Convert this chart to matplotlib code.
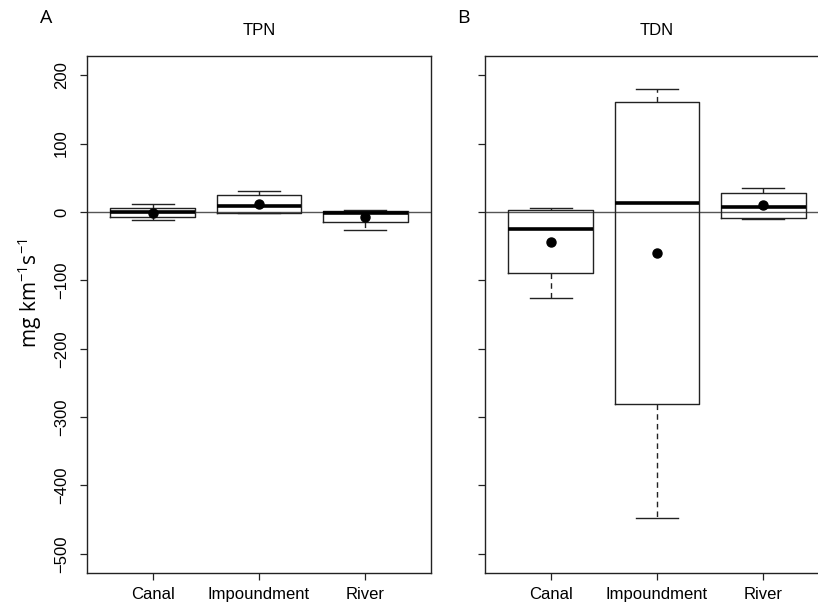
import matplotlib
matplotlib.use('Agg')
import matplotlib.pyplot as plt

plt.rcParams['font.family'] = ['Liberation Sans', 'DejaVu Sans']

categories = ['Canal', 'Impoundment', 'River']

# TPN (panel A)
tpn_whislo = [-11.7, -1.0, -26.0]
tpn_q1 = [-6.9, -1.0, -15.0]
tpn_med = [-0.4, 8.8, -2.0]
tpn_q3 = [5.4, 24.8, 1.5]
tpn_whishi = [11.7, 31.0, 3.0]
tpn_mean = [-1.0, 12.0, -7.7]

# TDN (panel B)
tdn_whislo = [-126.5, -447.0, -10.7]
tdn_q1 = [-88.6, -281.0, -8.8]
tdn_med = [-25.0, 13.6, 7.8]
tdn_q3 = [3.0, 161.0, 27.7]
tdn_whishi = [5.4, 179.6, 34.6]
tdn_mean = [-43.3, -60.3, 10.2]

yticks = [-500, -400, -300, -200, -100, 0, 100, 200]


def make_stats(lo, q1, med, q3, hi, mean):
    stats = []
    for i in range(len(categories)):
        stats.append(dict(label=categories[i], whislo=lo[i], q1=q1[i], med=med[i],
                          q3=q3[i], whishi=hi[i], mean=mean[i], fliers=[]))
    return stats


def draw_panel(ax, stats, title, show_ylabels):
    ax.axhline(0, color='#555555', linewidth=1.0, zorder=1)
    ax.bxp(stats, positions=[1, 2, 3], widths=0.8, showmeans=True,
           showfliers=False, patch_artist=False,
           boxprops=dict(color='#222222', linewidth=1.0),
           whiskerprops=dict(color='#222222', linewidth=1.0, linestyle=(0, (4, 3))),
           capprops=dict(color='#222222', linewidth=1.0),
           medianprops=dict(color='black', linewidth=2.6, solid_capstyle='butt'),
           meanprops=dict(marker='o', markerfacecolor='black', markeredgecolor='black',
                          markersize=6.5),
           capwidths=0.4, zorder=3)
    ax.set_xlim(0.38, 3.62)
    ax.set_ylim(-528, 228)
    ax.set_yticks(yticks)
    ax.set_xticks([1, 2, 3])
    ax.set_xticklabels(categories, fontsize=12)
    if show_ylabels:
        ax.set_yticklabels([str(t).replace('-', '\u2212') for t in yticks],
                           rotation=90, va='center', fontsize=12)
    else:
        ax.set_yticklabels([])
    ax.tick_params(axis='both', direction='out', length=5, width=0.9, color='#222222')
    ax.tick_params(axis='y', pad=8)
    ax.tick_params(axis='x', pad=5)
    for s in ax.spines.values():
        s.set_linewidth(1.0)
        s.set_color('#222222')
    ax.set_title(title, fontsize=12, pad=15)


fig = plt.figure(figsize=(8.18, 6.10), dpi=100)
ax1 = fig.add_axes([87 / 818, 37 / 610, 344 / 818, 517 / 610])
ax2 = fig.add_axes([485 / 818, 37 / 610, 344 / 818, 517 / 610])

draw_panel(ax1, make_stats(tpn_whislo, tpn_q1, tpn_med, tpn_q3, tpn_whishi, tpn_mean), 'TPN', True)
draw_panel(ax2, make_stats(tdn_whislo, tdn_q1, tdn_med, tdn_q3, tdn_whishi, tdn_mean), 'TDN', False)

fig.text(40 / 818, 1 - 18 / 610, 'A', fontsize=14, ha='left', va='center', family='Open Sans')
fig.text(457 / 818, 1 - 18 / 610, 'B', fontsize=14, ha='left', va='center', family='Open Sans')
fig.text(30 / 818, 1 - 293 / 610, 'mg km$^{\\mathregular{-1}}$s$^{\\mathregular{-1}}$',
         fontsize=15, rotation=90, ha='center', va='center', family='Open Sans')

fig.savefig('out.png', dpi=100)
